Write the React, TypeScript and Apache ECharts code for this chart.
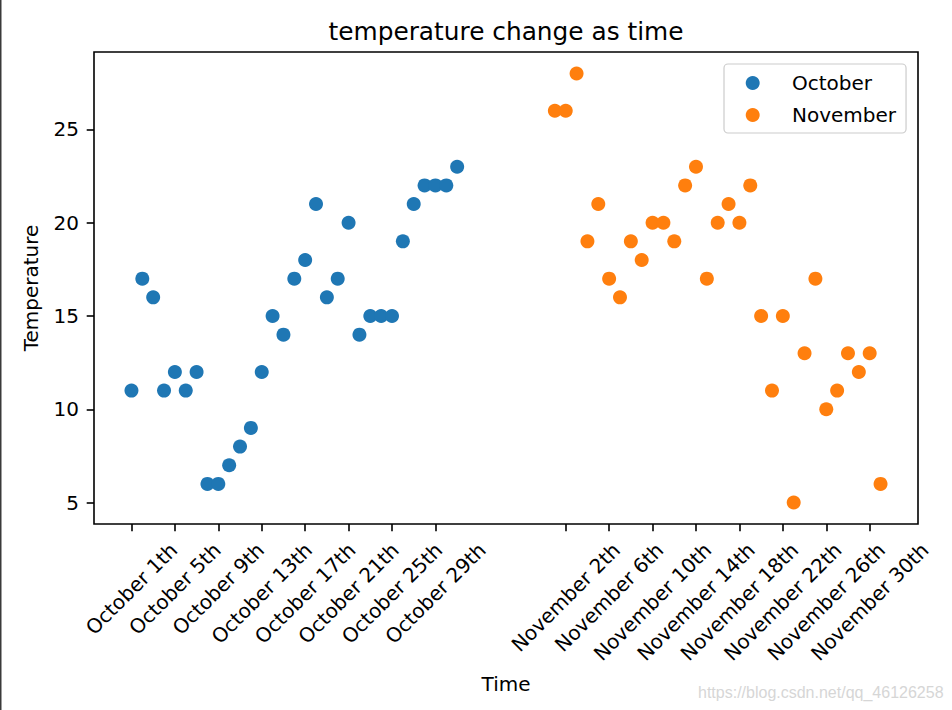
import React, { useEffect, useRef } from "react";
import * as echarts from "echarts";

// ---- data ----
const octoberX = [1, 2, 3, 4, 5, 6, 7, 8, 9, 10, 11, 12, 13, 14, 15, 16, 17, 18, 19, 20, 21, 22, 23, 24, 25, 26, 27, 28, 29, 30, 31];
const octoberTemps = [11, 17, 16, 11, 12, 11, 12, 6, 6, 7, 8, 9, 12, 15, 14, 17, 18, 21, 16, 17, 20, 14, 15, 15, 15, 19, 21, 22, 22, 22, 23];
const novemberX = [40, 41, 42, 43, 44, 45, 46, 47, 48, 49, 50, 51, 52, 53, 54, 55, 56, 57, 58, 59, 60, 61, 62, 63, 64, 65, 66, 67, 68, 69, 70];
const novemberTemps = [26, 26, 28, 19, 21, 17, 16, 19, 18, 20, 20, 19, 22, 23, 17, 20, 21, 20, 22, 15, 11, 15, 5, 13, 17, 10, 11, 13, 12, 13, 6];
const xTickValues = [1, 5, 9, 13, 17, 21, 25, 29, 41, 45, 49, 53, 57, 61, 65, 69];
const xTickLabels = [
  "October 1th", "October 5th", "October 9th", "October 13th", "October 17th", "October 21th", "October 25th", "October 29th",
  "November 2th", "November 6th", "November 10th", "November 14th", "November 18th", "November 22th", "November 26th", "November 30th",
];
const yTickValues = [5, 10, 15, 20, 25];
const seriesNames = ["October", "November"];
const seriesColors = ["#1f77b4", "#ff7f0e"];
const titleText = "temperature change as time";
const xName = "Time";
const yName = "Temperature";
const watermark = "https://blog.csdn.net/qq_46126258";

const FONT = "DejaVu Sans";

export default function App() {
  const ref = useRef<HTMLDivElement>(null);

  useEffect(() => {
    if (!ref.current) return;
    const chart = echarts.init(ref.current, null, { renderer: "svg" });

    const ctx = document.createElement("canvas").getContext("2d")!;
    const measure = (t: string, size: number) => {
      ctx.font = `${size}px "${FONT}"`;
      return ctx.measureText(t).width;
    };

    const gridLeft = 94, gridTop = 52, gridW = 824, gridH = 472;
    const xMin = -2.45, xMax = 73.45;
    const yMin = 3.85, yMax = 29.15;
    const tickLine = { color: "#000", width: 1.6 };

    const baseX: any = {
      type: "value",
      min: xMin,
      max: xMax,
      gridIndex: 0,
      position: "bottom",
      splitLine: { show: false },
      axisLine: { show: false, onZero: false },
    };

    const labelAxes = xTickValues.map((v, i) => ({
      ...baseX,
      axisTick: { show: false },
      axisLabel: {
        show: true,
        customValues: [v],
        rotate: 45,
        align: "center",
        verticalAlign: "middle",
        margin: 23 + measure(xTickLabels[i], 20) * 0.35,
        formatter: () => xTickLabels[i],
        fontSize: 20,
        fontFamily: FONT,
        color: "#000",
      },
    }));

    const titleW = measure(titleText, 24.8);
    const centerX = gridLeft + gridW / 2;

    const option: any = {
      animation: false,
      textStyle: { fontFamily: FONT },
      title: {
        text: titleText,
        left: centerX - titleW / 2,
        top: 19,
        padding: 0,
        textStyle: { fontSize: 24.8, fontWeight: "normal", color: "#000", fontFamily: FONT },
      },
      legend: {
        orient: "vertical",
        left: 724,
        top: 64,
        padding: [9, 10, 8, 21.7],
        itemWidth: 14,
        itemHeight: 14,
        itemGap: 12,
        icon: "circle",
        backgroundColor: "rgba(255,255,255,0.8)",
        borderColor: "#cccccc",
        borderWidth: 1.2,
        borderRadius: 4,
        data: seriesNames,
        textStyle: { fontSize: 20, color: "#000", fontFamily: FONT, padding: [0, 0, 0, 27.3] },
      },
      grid: {
        left: gridLeft,
        top: gridTop,
        width: gridW,
        height: gridH,
        show: true,
        borderColor: "#000",
        borderWidth: 1.6,
        containLabel: false,
      },
      xAxis: [
        {
          ...baseX,
          name: xName,
          nameLocation: "middle",
          nameGap: 150,
          nameTextStyle: { fontSize: 20, color: "#000", fontFamily: FONT },
          axisTick: { show: true, customValues: xTickValues, length: 7.3, lineStyle: tickLine },
          axisLabel: { show: false },
        },
        ...labelAxes,
      ],
      yAxis: {
        type: "value",
        min: yMin,
        max: yMax,
        position: "left",
        name: yName,
        nameLocation: "middle",
        nameGap: 53,
        nameTextStyle: { fontSize: 20, color: "#000", fontFamily: FONT },
        splitLine: { show: false },
        axisLine: { show: false, onZero: false },
        axisTick: { show: true, customValues: yTickValues, length: 7.3, lineStyle: tickLine },
        axisLabel: { customValues: yTickValues, margin: 15, fontSize: 20, color: "#000", fontFamily: FONT },
      },
      series: [
        {
          name: seriesNames[0],
          type: "scatter",
          xAxisIndex: 0,
          symbol: "circle",
          symbolSize: 14,
          itemStyle: { color: seriesColors[0], opacity: 1 },
          data: octoberX.map((x, i) => [x, octoberTemps[i]]),
        },
        {
          name: seriesNames[1],
          type: "scatter",
          xAxisIndex: 0,
          symbol: "circle",
          symbolSize: 14,
          itemStyle: { color: seriesColors[1], opacity: 1 },
          data: novemberX.map((x, i) => [x, novemberTemps[i]]),
        },
      ],
      graphic: [
        {
          type: "rect",
          x: 0,
          y: 0,
          shape: { x: 0, y: 0, width: 1.5, height: 710 },
          style: { fill: "#3a3a3a" },
        },
        {
          type: "text",
          x: 698,
          y: 692,
          style: {
            text: watermark,
            fontSize: 16,
            fontFamily: "Liberation Sans",
            fill: "#d6d6d6",
            verticalAlign: "middle",
          },
        },
      ],
    };

    chart.setOption(option);
    return () => chart.dispose();
  }, []);

  return (
    <div
      ref={ref}
      style={{ position: "fixed", left: 0, top: 0, width: 952, height: 710, background: "#fff" }}
    />
  );
}
